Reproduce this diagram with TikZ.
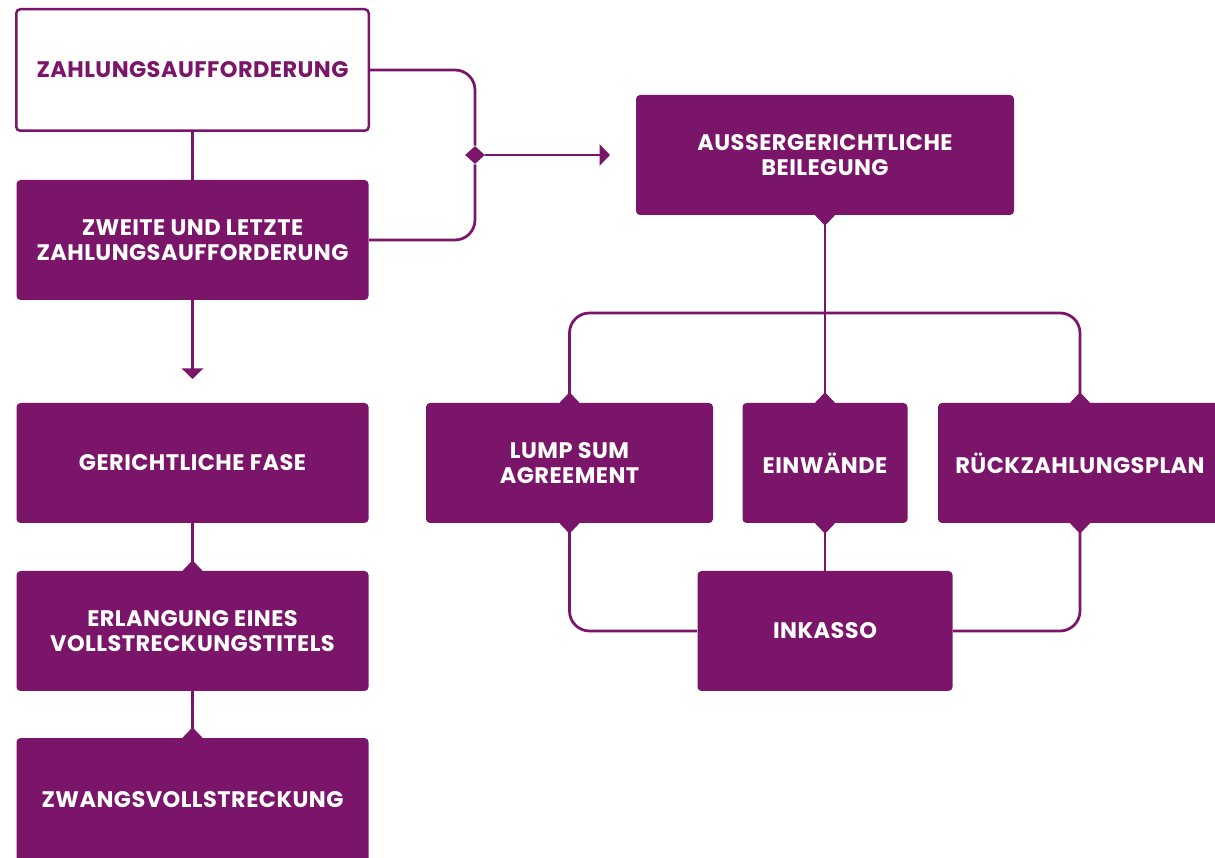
\documentclass[tikz,border=0pt]{standalone}
\usepackage{fontspec}
\setmainfont{Poppins}
\usepackage{xcolor}
\usetikzlibrary{arrows.meta,shapes.geometric}
\definecolor{plum}{HTML}{7B1569}

\begin{document}
\begin{tikzpicture}
\tikzset{
  plumbox/.style={rectangle, rounded corners=0.08cm, fill=plum, text=white,
    minimum height=2.4cm, inner sep=0pt, align=center,
    font=\bfseries\fontsize{12.8}{14.2}\selectfont\addfontfeatures{LetterSpace=2}},
  whitebox/.style={plumbox, fill=white, draw=plum, line width=0.05cm, text=plum},
  link/.style={plum, line width=0.055cm, rounded corners=0.4cm},
  joint/.style={diamond, fill=plum, inner sep=0pt, minimum width=0.4cm, minimum height=0.42cm},
  headtip/.style={-{Triangle[width=0.42cm,length=0.21cm]}}
}
    \useasboundingbox (0,0) rectangle (24.3,17.14);

    \node[whitebox, minimum width=7.05cm, minimum height=2.43cm] (request) at (3.85,15.74) {ZAHLUNGSAUFFORDERUNG};
    \node[plumbox, minimum width=7.04cm] (reminder) at (3.85,12.34) {ZWEITE UND LETZTE\\ZAHLUNGSAUFFORDERUNG};
    \node[plumbox, minimum width=7.04cm] (court) at (3.85,7.88) {GERICHTLICHE FASE};
    \node[plumbox, minimum width=7.04cm] (title) at (3.85,4.52) {ERLANGUNG EINES\\VOLLSTRECKUNGSTITELS};
    \node[plumbox, minimum width=7.04cm, minimum height=2.48cm] (enforcement) at (3.85,1.14) {ZWANGSVOLLSTRECKUNG};

    \node[plumbox, minimum width=7.56cm] (settlement) at (16.5,14.04) {AUSSERGERICHTLICHE\\BEILEGUNG};
    \node[plumbox, minimum width=5.74cm] (lumpsum) at (11.39,7.88) {LUMP SUM\\AGREEMENT};
    \node[plumbox, minimum width=3.3cm] (objection) at (16.5,7.88) {EINWÄNDE};
    \node[plumbox, minimum width=5.68cm] (plan) at (21.6,7.88) {RÜCKZAHLUNGSPLAN};
    \node[plumbox, minimum width=5.1cm] (collection) at (16.5,4.52) {INKASSO};

    \coordinate (halt) at (3.85,9.56);
    \coordinate (entry) at (12.2,14.04);
    \coordinate (split) at (16.5,10.88);
    \node[joint, minimum height=0.36cm] (merge) at (9.5,14.04) {};

    \draw[link] (request.south) -- (reminder.north);
    \draw[link, headtip] (reminder.south) -- (halt);
    \draw[link] (request.east) -| (merge);
    \draw[link] (reminder.east) -| (merge);
    \draw[link, headtip] (merge) -- (entry);
    \draw[link] (court.south) -- (title.north);
    \draw[link] (title.south) -- (enforcement.north);

    \draw[link] (settlement.south) -- (objection.north);
    \draw[link] (lumpsum.north) |- (split) -| (plan.north);
    \draw[link] (objection.south) -- (collection.north);
    \draw[link] (lumpsum.south) |- (collection.west);
    \draw[link] (plan.south) |- (collection.east);

    \foreach \n/\a in {settlement/south, lumpsum/north, objection/north, plan/north,
        lumpsum/south, objection/south, plan/south, title/north, enforcement/north}
        \node[joint] (joint-\n-\a) at (\n.\a) {};
\end{tikzpicture}
\end{document}
